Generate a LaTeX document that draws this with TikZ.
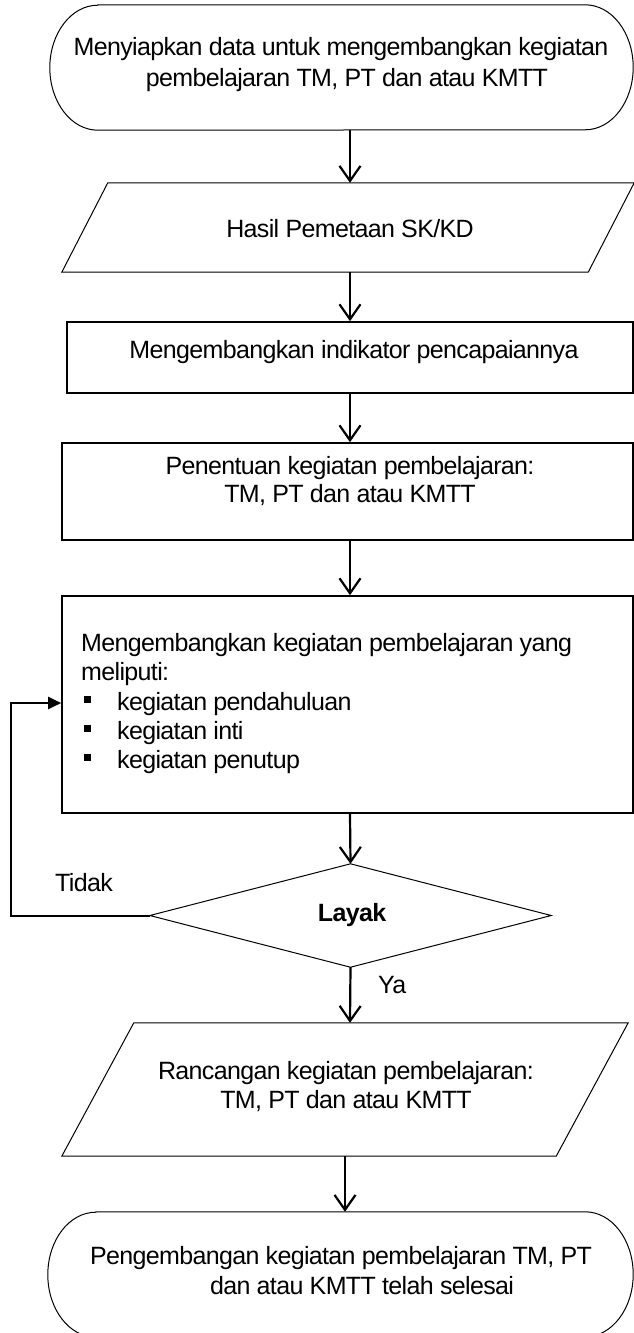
\documentclass[tikz,border=0pt]{standalone}
\usepackage{fontspec}
\setmainfont{Liberation Sans}[LetterSpace=-2.6]
\usetikzlibrary{arrows.meta,calc}
\begin{document}
\begin{tikzpicture}[x=1pt,y=-1pt,
  shapebox/.style={draw=none,inner sep=0pt,minimum width=#1},
  outline/.style={line width=1pt},
  rectbox/.style={draw,line width=1.6pt,inner sep=0pt},
  txt/.style={inner sep=0pt,anchor=base,font=\fontsize{25}{29}\selectfont},
  txtl/.style={txt,anchor=base west},
  arr/.style={line width=2.2pt,-{Straight Barb[length=15pt,width=21pt,line width=2.2pt]}},
  fb/.style={line width=2pt,-{Triangle[length=13pt,width=12pt]}}]
\useasboundingbox (0,0) rectangle (634,1333);
\fill[white] (0,0) rectangle (634,1333);
\coordinate (ax) at (350,0);

% top terminal
\node[shapebox=583,minimum height=125] (t1) at (341.5,67.5) {};
\draw[outline] ($(t1.north west)+(48,0)$) -- ($(t1.north east)-(48,0)$)
  arc[start angle=-90,end angle=90,x radius=48,y radius=62.5]
  -- ($(t1.south west)+(48,0)$)
  arc[start angle=90,end angle=270,x radius=48,y radius=62.5] -- cycle;
\node[txt] (t1a) at (341,55) {Menyiapkan data untuk mengembangkan kegiatan};
\node[txt] (t1b) at (347,86) {pembelajaran TM, PT dan atau KMTT};

% parallelogram 1
\node[shapebox=572,minimum height=89] (p1) at (348,227.5) {};
\draw[outline] (p1.south west) -- ($(p1.north west)+(46,0)$) -- (p1.north east)
  -- ($(p1.south east)-(46,0)$) -- cycle;
\node[txt] (p1a) at (350,237) {Hasil Pemetaan SK/KD};

% box 2
\node[rectbox,minimum width=566,minimum height=71] (b2) at (350,357.5) {};
\node[txt] (b2a) at (354,358) {Mengembangkan indikator pencapaiannya};

% box 3
\node[rectbox,minimum width=571,minimum height=97] (b3) at (347.5,491.5) {};
\node[txt] (b3a) at (350,474) {Penentuan kegiatan pembelajaran:};
\node[txt] (b3b) at (350,502) {TM, PT dan atau KMTT};

% box 4
\node[rectbox,minimum width=571,minimum height=217] (b4) at (347.5,704.5) {};
\node[txtl] (b4a) at (81,651) {Mengembangkan kegiatan pembelajaran yang};
\node[txtl] (b4b) at (81,680) {meliputi:};
\node[txtl] (b4c) at (117,710) {kegiatan pendahuluan};
\node[txtl] (b4d) at (117,739) {kegiatan inti};
\node[txtl] (b4e) at (117,768) {kegiatan penutup};
\fill (84,696) rectangle ++(7,7);
\fill (84,725) rectangle ++(7,7);
\fill (84,754) rectangle ++(7,7);

% diamond
\node[shapebox=401,minimum height=103] (d) at (350.5,915.5) {};
\draw[outline] (d.north) -- (d.east) -- (d.south) -- (d.west) -- cycle;
\node[txt,font=\fontsize{25}{29}\selectfont\bfseries] (da) at (352,921) {Layak};
\node[txtl] (tidak) at (55,891) {Tidak};
\node[txtl] (ya) at (378,993) {Ya};

% parallelogram 2
\node[shapebox=566,minimum height=133] (p2) at (345,1089.5) {};
\draw[outline] (p2.south west) -- ($(p2.north west)+(72,0)$) -- (p2.north east)
  -- ($(p2.south east)-(72,0)$) -- cycle;
\node[txt] (p2a) at (346,1079) {Rancangan kegiatan pembelajaran:};
\node[txt] (p2b) at (346,1108) {TM, PT dan atau KMTT};

% bottom terminal
\node[shapebox=585,minimum height=125] (t2) at (340.5,1274.5) {};
\draw[outline] ($(t2.north west)+(48,0)$) -- ($(t2.north east)-(48,0)$)
  arc[start angle=-90,end angle=90,x radius=48,y radius=62.5]
  -- ($(t2.south west)+(48,0)$)
  arc[start angle=90,end angle=270,x radius=48,y radius=62.5] -- cycle;
\node[txt] (t2a) at (341,1264) {Pengembangan kegiatan pembelajaran TM, PT};
\node[txt] (t2b) at (362,1294) {dan atau KMTT telah selesai};

% connectors
\draw[arr] (t1.south -| ax) -- (p1.north -| ax);
\draw[arr] (p1.south -| ax) -- (b2.north -| ax);
\draw[arr] (b2.south -| ax) -- (b3.north -| ax);
\draw[arr] (b3.south -| ax) -- (b4.north -| ax);
\draw[arr] (b4.south -| ax) -- (d.north);
\draw[arr] (d.south) -- (p2.north -| ax);
\coordinate (fbx) at (11,0);
\coordinate (fby) at (0,703);
\draw[fb] (d.west) -- (d.west -| fbx) -- (fbx |- fby) -- (b4.west |- fby);
\draw[arr] (p2.south -| 345,0) -- (t2.north -| 345,0);
\end{tikzpicture}
\end{document}
